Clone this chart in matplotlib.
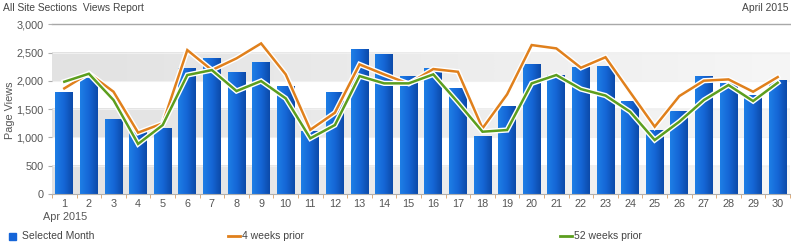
import numpy as np
import matplotlib
matplotlib.use("Agg")
import matplotlib.pyplot as plt
import matplotlib.patheffects as pe
from matplotlib.colors import LinearSegmentedColormap

plt.rcParams['font.family'] = ['Liberation Sans', 'DejaVu Sans']

days = list(range(1, 31))
selected_month = [1810, 2055, 1325, 1090, 1170, 2232, 2398, 2161, 2332, 1914,
                  1119, 1797, 2568, 2468, 2079, 2221, 1867, 1028, 1549, 2297,
                  2103, 2249, 2262, 1643, 1125, 1472, 2079, 1961, 1744, 2014]
weeks4_prior = [1867, 2132, 1808, 1085, 1249, 2544, 2190, 2398, 2662, 2115,
                1135, 1437, 2291, 2115, 1949, 2209, 2161, 1161, 1762, 2633,
                2574, 2232, 2418, 1800, 1190, 1731, 2003, 2026, 1808, 2067]
weeks52_prior = [1985, 2126, 1661, 885, 1219, 2103, 2191, 1820, 1997, 1691,
                 984, 1219, 2085, 1956, 1956, 2115, 1620, 1101, 1131, 1956,
                 2103, 1855, 1740, 1454, 954, 1278, 1661, 1926, 1643, 1967]
y_ticks = [0, 500, 1000, 1500, 2000, 2500, 3000]
y_tick_labels = ['0', '500', '1,000', '1,500', '2,000', '2,500', '3,000']
title_left = 'All Site Sections  Views Report'
title_right = 'April 2015'
x_sub_label = 'Apr 2015'
y_label = 'Page Views'
legend_labels = ['Selected Month', '4 weeks prior', '52 weeks prior']

W, H = 791, 245
FS = 7.8
fig = plt.figure(figsize=(W / 100, H / 100), dpi=100)
ax = fig.add_axes([52 / W, 1 - 194 / H, (790 - 52) / W, (194 - 24.3) / H])
ax.set_xlim(0.5, 30.5)
ax.set_ylim(0, 3000)

# background bands with horizontal gradient
band_cmap = LinearSegmentedColormap.from_list('band', ['#e2e2e2', '#f6f6f6'])
grad = np.linspace(0, 1, 256).reshape(1, -1)
for lo in [0, 1000, 2000]:
    ax.imshow(grad, cmap=band_cmap, aspect='auto', extent=(0.5, 30.5, lo, lo + 500),
              zorder=0, interpolation='bicubic')
for yv in y_ticks[1:-1]:
    ax.axhline(yv, color='#f0f0f0', lw=0.8, zorder=0.5)
ax.axhline(3000, color='#a8a8a8', lw=1.0, zorder=1, clip_on=False)

# bars with gradient
bar_cmap = LinearSegmentedColormap.from_list('bar', ['#1e7fe6', '#1566d6', '#0c4aa8'])
bars = ax.bar(days, selected_month, width=0.72, color='#1565d8', zorder=2)
for b in bars:
    x0 = b.get_x(); w = b.get_width(); h = b.get_height()
    im = ax.imshow(grad, cmap=bar_cmap, aspect='auto', extent=(x0, x0 + w, 0, h),
                   zorder=2.5, interpolation='bicubic')
    im.set_clip_path(b)
    b.set_facecolor('none')

halo = [pe.Stroke(linewidth=3.8, foreground='white'), pe.Normal()]
ax.plot(days, weeks4_prior, color='#e0801c', lw=1.8, zorder=4, path_effects=halo,
        solid_joinstyle='miter')
ax.plot(days, weeks52_prior, color='#5c9e1e', lw=1.8, zorder=4, path_effects=halo,
        solid_joinstyle='miter')

for s in ['top', 'right', 'left']:
    ax.spines[s].set_visible(False)
ax.spines['bottom'].set_color('#b0b0b0')
ax.spines['bottom'].set_linewidth(0.8)

ax.set_yticks(y_ticks)
ax.set_yticklabels(y_tick_labels, fontsize=FS, color='#555555')
ax.tick_params(axis='y', length=3, color='#b0b0b0', pad=3)
ax.set_xticks(days)
ax.set_xticklabels([str(d) for d in days], fontsize=FS, color='#555555')
ax.tick_params(axis='x', length=0, pad=3.5)
ax.set_xticks([d + 0.5 for d in [0] + days], minor=True)
ax.tick_params(axis='x', which='minor', length=3, color='#d9a066')

fig.text(10 / W, 1 - 110 / H, y_label, rotation=90, fontsize=FS, color='#555555',
         ha='center', va='center')

fig.text(43 / W, 1 - 217 / H, x_sub_label, fontsize=FS, color='#555555', ha='left', va='center')
fig.text(3 / W, 1 - 8 / H, title_left, fontsize=7.4, color='#444444', ha='left', va='center')
fig.text(788 / W, 1 - 8 / H, title_right, fontsize=7.4, color='#444444', ha='right', va='center')

# legend
ly = 1 - 236 / H
LFS = 7.5
fig.patches.append(plt.Rectangle((9 / W, ly - 3.5 / H), 7 / W, 7 / H, transform=fig.transFigure,
                                 color='#1565d8', figure=fig))
fig.text(22 / W, ly, legend_labels[0], fontsize=LFS, color='#444444', ha='left', va='center')
fig.lines.append(plt.Line2D([228 / W, 240 / W], [ly, ly], transform=fig.transFigure,
                            color='#e0801c', lw=2, figure=fig))
fig.text(242 / W, ly, legend_labels[1], fontsize=LFS, color='#444444', ha='left', va='center')
fig.lines.append(plt.Line2D([560 / W, 572 / W], [ly, ly], transform=fig.transFigure,
                            color='#5c9e1e', lw=2, figure=fig))
fig.text(574 / W, ly, legend_labels[2], fontsize=LFS, color='#444444', ha='left', va='center')

fig.savefig('out.png', dpi=100)
